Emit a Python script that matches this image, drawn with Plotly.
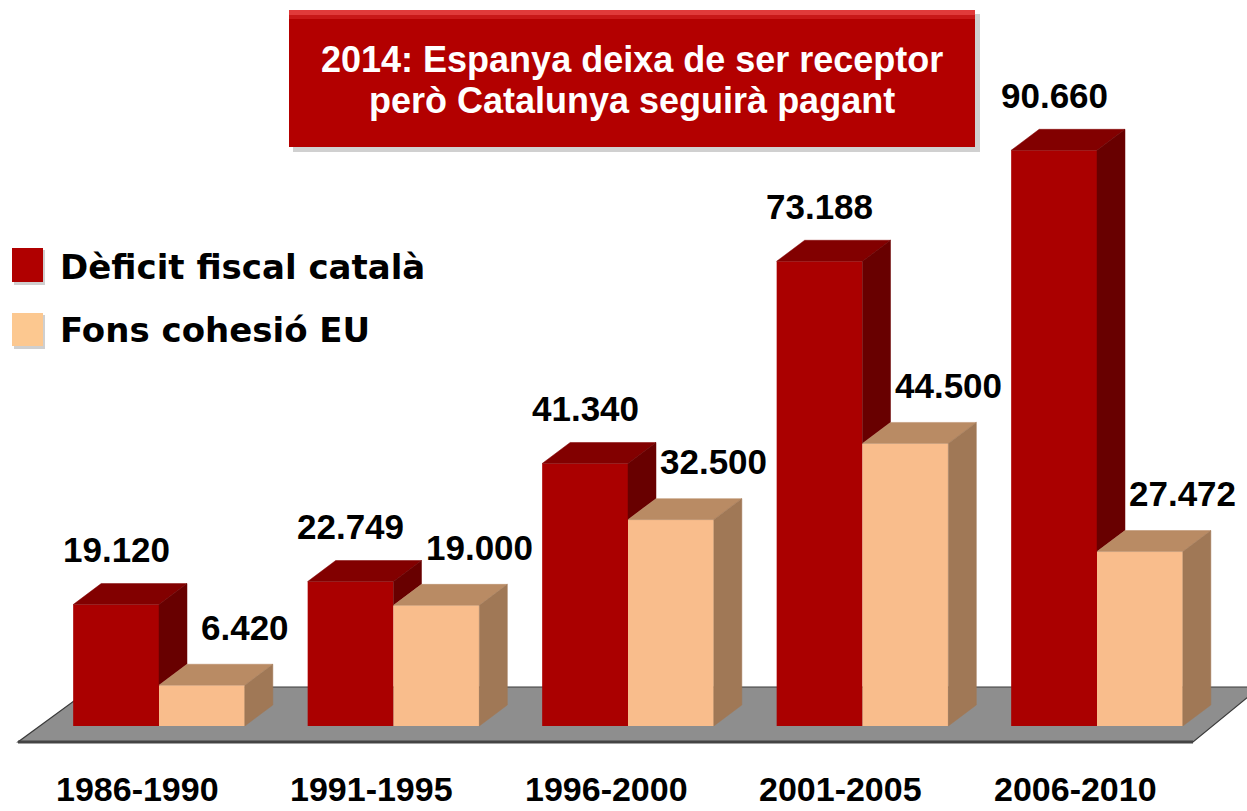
import plotly.graph_objects as go

# ---- data ----
categories = ['1986-1990', '1991-1995', '1996-2000', '2001-2005', '2006-2010']
deficit = [19120, 22749, 41340, 73188, 90660]      # Dèficit fiscal català
cohesio = [6420, 19000, 32500, 44500, 27472]       # Fons cohesió EU
series_names = ['Dèficit fiscal català', 'Fons cohesió EU']
title_lines = ['2014: Espanya deixa de ser receptor', 'però Catalunya seguirà pagant']

# ---- style ----
W, H = 1247, 811
RED_FRONT, RED_TOP, RED_SIDE = '#aa0000', '#820000', '#680000'
PEA_FRONT, PEA_TOP, PEA_SIDE = '#f9bd8c', '#b98b64', '#a07856'
FONT = 'Liberation Sans, Arial, sans-serif'
LEG_FONT = 'DejaVu Sans, Liberation Sans, sans-serif'

# axis mapping (pixel geometry of the reference)
PX_PER_X = 234.5          # px per category step
PX_PER_Y = 6.35 / 1000.0  # px per unit of value
X0_PX, Y0_PX = 159, 726   # pixel of x=0 / y=0
xr = [(0 - X0_PX) / PX_PER_X, (W - X0_PX) / PX_PER_X]
yr = [-(H - Y0_PX) / PX_PER_Y, Y0_PX / PX_PER_Y]

def px2x(px):
    return (px - X0_PX) / PX_PER_X

def py2y(py):
    return (Y0_PX - py) / PX_PER_Y

BW = 0.366                 # bar width (x units)
DX = 28 / PX_PER_X         # depth offset
DY = 21 / PX_PER_Y

idx = list(range(len(categories)))
red_c = [i - BW / 2 for i in idx]
pea_c = [i + BW / 2 for i in idx]

fig = go.Figure()

# front faces
fig.add_trace(go.Bar(x=red_c, y=deficit, width=BW, marker=dict(color=RED_FRONT, line=dict(width=0)),
                     name=series_names[0], showlegend=False, hoverinfo='skip'))
fig.add_trace(go.Bar(x=pea_c, y=cohesio, width=BW, marker=dict(color=PEA_FRONT, line=dict(width=0)),
                     name=series_names[1], showlegend=False, hoverinfo='skip'))

def poly_trace(xs, ys, color):
    return go.Scatter(x=xs, y=ys, mode='lines', fill='toself', fillcolor=color,
                      line=dict(color=color, width=0.5), showlegend=False, hoverinfo='skip')

# red top faces and visible red side faces
tx, ty, sx, sy = [], [], [], []
for c, h, p in zip(red_c, deficit, cohesio):
    l, r = c - BW / 2, c + BW / 2
    tx += [l, l + DX, r + DX, r, l, None]
    ty += [h, h + DY, h + DY, h, h, None]
    sx += [r, r + DX, r + DX, r, r, None]
    sy += [p, p + DY, h + DY, h, p, None]
fig.add_trace(poly_trace(tx, ty, RED_TOP))
fig.add_trace(poly_trace(sx, sy, RED_SIDE))

# peach top and side faces
tx, ty, sx, sy = [], [], [], []
for c, p in zip(pea_c, cohesio):
    l, r = c - BW / 2, c + BW / 2
    tx += [l, l + DX, r + DX, r, l, None]
    ty += [p, p + DY, p + DY, p, p, None]
    sx += [r, r + DX, r + DX, r, r, None]
    sy += [0, DY, p + DY, p, 0, None]
fig.add_trace(poly_trace(tx, ty, PEA_TOP))
fig.add_trace(poly_trace(sx, sy, PEA_SIDE))

shapes = []
# floor
fl = [(18, 742), (1193, 742), (1260, 687), (93, 687)]
path = 'M ' + ' L '.join(f'{px2x(a)},{py2y(b)}' for a, b in fl) + ' Z'
shapes.append(dict(type='path', path=path, xref='x', yref='y', layer='below',
                   fillcolor='#8e8e8e', line=dict(color='#3a3a3a', width=1.2)))
shapes.append(dict(type='line', xref='x', yref='y', layer='below',
                   x0=px2x(18), x1=px2x(1193), y0=py2y(742), y1=py2y(742),
                   line=dict(color='#444444', width=3)))

def pbox(x0, y0, x1, y1, **kw):
    d = dict(type='rect', xref='paper', yref='paper',
             x0=x0 / W, x1=x1 / W, y0=1 - y1 / H, y1=1 - y0 / H)
    d.update(kw)
    return d

# title box with shadow
shapes.append(pbox(293, 14, 980, 152, fillcolor='#b0b0b0', line=dict(width=0), opacity=0.6))
shapes.append(pbox(289, 10, 975, 147, fillcolor='#b30000', line=dict(width=0)))
shapes.append(pbox(289, 10, 975, 15, fillcolor='#e03a3a', line=dict(width=0)))
shapes.append(pbox(289, 15, 975, 19, fillcolor='#c81818', line=dict(width=0)))

# legend squares with shadow
shapes.append(pbox(14, 250, 45, 285, fillcolor='#bbbbbb', line=dict(width=0), opacity=0.7))
shapes.append(pbox(12, 248, 43, 282, fillcolor='#b00000', line=dict(width=0)))
shapes.append(pbox(14, 315, 45, 349, fillcolor='#bbbbbb', line=dict(width=0), opacity=0.7))
shapes.append(pbox(12, 313, 43, 346, fillcolor='#fcc890', line=dict(width=0)))

annotations = []
def fmt(v):
    return f'{v:,}'.replace(',', '.')

for c, h in zip(red_c, deficit):
    annotations.append(dict(x=c, y=h + 55 / PX_PER_Y, xref='x', yref='y', text=fmt(h), showarrow=False,
                            xanchor='center', yanchor='middle',
                            font=dict(family=FONT, size=35, color='#000000', weight='bold')))
for c, p in zip(pea_c, cohesio):
    annotations.append(dict(x=c + 43 / PX_PER_X, y=p + 58 / PX_PER_Y, xref='x', yref='y', text=fmt(p),
                            showarrow=False, xanchor='center', yanchor='middle',
                            font=dict(family=FONT, size=35, color='#000000', weight='bold')))
for i, cat in zip(idx, categories):
    annotations.append(dict(x=i - 22 / PX_PER_X, y=py2y(789), xref='x', yref='y', text=cat, showarrow=False,
                            xanchor='center', yanchor='middle', borderpad=0,
                            font=dict(family=FONT, size=34, color='#000000', weight='bold')))

# legend text
for name, yc in zip(series_names, [267, 330]):
    annotations.append(dict(x=58 / W, y=1 - yc / H, xref='paper', yref='paper', text=name, showarrow=False,
                            xanchor='left', yanchor='middle',
                            font=dict(family=LEG_FONT, size=34, color='#000000', weight='bold')))
# title text
for line, yc in zip(title_lines, [60, 101]):
    annotations.append(dict(x=(289 + 975) / 2 / W, y=1 - yc / H, xref='paper', yref='paper', text=line,
                            showarrow=False, xanchor='center', yanchor='middle',
                            font=dict(family=FONT, size=36, color='#ffffff', weight='bold')))

fig.update_layout(
    width=W, height=H, margin=dict(l=0, r=0, t=0, b=0),
    paper_bgcolor='white', plot_bgcolor='white',
    barmode='overlay', showlegend=False,
    xaxis=dict(range=xr, visible=False, fixedrange=True),
    yaxis=dict(range=yr, visible=False, fixedrange=True),
    shapes=shapes, annotations=annotations,
)

fig.write_html('out.html', config={'displayModeBar': False},
               post_script="document.body.style.margin='0';document.body.style.overflow='hidden';")
